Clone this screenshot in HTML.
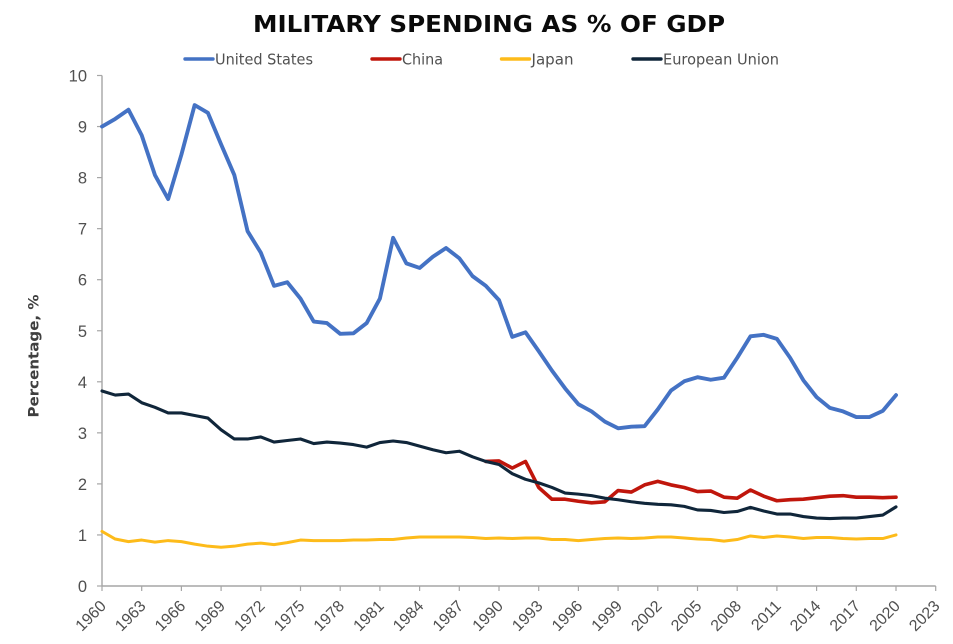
<!DOCTYPE html>
<html lang="en">
<head>
<meta charset="utf-8">
<title>Military Spending as % of GDP</title>
<style>
html,body{margin:0;padding:0;background:#fff;width:953px;height:644px;overflow:hidden}
svg{display:block;font-family:"Liberation Sans",sans-serif}
</style>
</head>
<body>
<svg id="chart" xmlns="http://www.w3.org/2000/svg" width="953" height="644" viewBox="0 0 953 644">
  <text x="489" y="32" text-anchor="middle" font-family="'DejaVu Sans',sans-serif" font-size="23" font-weight="700" fill="#0a0a0a" textLength="472" lengthAdjust="spacingAndGlyphs">MILITARY SPENDING AS % OF GDP</text>
  <text transform="translate(38.5 356) rotate(-90)" text-anchor="middle" font-family="'DejaVu Sans',sans-serif" font-size="14.5" font-weight="700" fill="#3f3f3f" textLength="123" lengthAdjust="spacingAndGlyphs">Percentage, %</text>
  <g id="axes"></g>
  <g id="series" style="filter:blur(.35px)"></g>
  <g id="legend"></g>
</svg>
<script>
const startYear = 1960;
const endYear = 2023;
const xTickLabels = ["1960","1963","1966","1969","1972","1975","1978","1981","1984","1987","1990","1993","1996","1999","2002","2005","2008","2011","2014","2017","2020","2023"];
const yTickLabels = [0,1,2,3,4,5,6,7,8,9,10];

const unitedStates = [9.0,9.15,9.33,8.83,8.05,7.58,8.45,9.42,9.27,8.65,
  8.05,6.95,6.53,5.88,5.95,5.63,5.18,5.15,4.94,4.95,
  5.15,5.63,6.82,6.32,6.23,6.45,6.62,6.42,6.07,5.88,
  5.6,4.88,4.97,4.6,4.22,3.87,3.56,3.42,3.22,3.09,
  3.12,3.13,3.46,3.83,4.01,4.09,4.04,4.08,4.47,4.89,
  4.92,4.84,4.47,4.03,3.7,3.49,3.42,3.31,3.31,3.43,
  3.74];
const chinaStartYear = 1989;
const china = [2.44,
  2.45,2.31,2.44,1.93,1.7,1.7,1.66,1.63,1.65,1.87,
  1.84,1.98,2.05,1.98,1.93,1.85,1.86,1.74,1.72,1.88,
  1.76,1.67,1.69,1.7,1.73,1.76,1.77,1.74,1.74,1.73,
  1.74];
const japan = [1.07,.92,.87,.9,.86,.89,.87,.82,.78,.76,
  .78,.82,.84,.81,.85,.9,.89,.89,.89,.9,
  .9,.91,.91,.94,.96,.96,.96,.96,.95,.93,
  .94,.93,.94,.94,.91,.91,.89,.91,.93,.94,
  .93,.94,.96,.96,.94,.92,.91,.88,.91,.98,
  .95,.98,.96,.93,.95,.95,.93,.92,.93,.93,
  1.0];
const europeanUnion = [3.82,3.74,3.76,3.59,3.5,3.39,3.39,3.34,3.29,3.06,
  2.88,2.88,2.92,2.82,2.85,2.88,2.79,2.82,2.8,2.77,
  2.72,2.81,2.84,2.81,2.74,2.67,2.61,2.64,2.53,2.44,
  2.38,2.2,2.09,2.02,1.93,1.82,1.8,1.77,1.72,1.69,
  1.65,1.62,1.6,1.59,1.56,1.49,1.48,1.44,1.46,1.54,
  1.47,1.41,1.41,1.36,1.33,1.32,1.33,1.33,1.36,1.39,
  1.55];

const NS = "http://www.w3.org/2000/svg";
const plotLeft = 102, plotRight = 935.7, plotTop = 75.5, plotBottom = 586;
const yMax = 10;
function xScale(year){ return plotLeft + (year - startYear) * (plotRight - plotLeft) / (endYear - startYear); }
function yScale(v){ return plotBottom - v * (plotBottom - plotTop) / yMax; }
function make(tag, attrs, parent){
  const el = document.createElementNS(NS, tag);
  for (const k in attrs) el.setAttribute(k, attrs[k]);
  parent.appendChild(el);
  return el;
}

const axes = document.getElementById("axes");
const AXIS = "#a6a6a6", LABEL = "#505050";

const yAxisLine = make("line", {x1:plotLeft, x2:plotLeft, y1:plotTop, y2:plotBottom, stroke:AXIS, "stroke-width":1.4}, axes);


const xAxisLine = make("line", {x1:plotLeft, x2:plotRight, y1:plotBottom, y2:plotBottom, stroke:AXIS, "stroke-width":1.4}, axes);



yTickLabels.forEach(function(v){
  const y = yScale(v);
  const tick = make("line", {x1:plotLeft-5, x2:plotLeft, y1:y, y2:y, stroke:AXIS, "stroke-width":1.2}, axes);
  
  
  const t = make("text", {x:plotLeft-15, y:y+6, "text-anchor":"end", "font-size":16.5, fill:LABEL}, axes);
  
  
  t.textContent = v;
});

xTickLabels.forEach(function(label){
  const x = xScale(+label);
  const tick = make("line", {x1:x, x2:x, y1:plotBottom, y2:plotBottom+5, stroke:AXIS, "stroke-width":1.2}, axes);
  
  
  const t = make("text", {transform:"translate("+(x+5)+" "+(plotBottom+21)+") rotate(-45)", "text-anchor":"end", "font-size":16, fill:LABEL}, axes);
  
  
  t.textContent = label;
});

function linePath(values, firstYear){
  return values.map(function(v, i){
    return (i ? "L" : "M") + xScale(firstYear + i).toFixed(2) + " " + yScale(v).toFixed(2);
  }).join(" ");
}
const seriesGroup = document.getElementById("series");
const usLine = make("path", {d:linePath(unitedStates, startYear), fill:"none", stroke:"#4472C4", "stroke-width":3.9, "stroke-linejoin":"round", "stroke-linecap":"round"}, seriesGroup);


const japanLine = make("path", {d:linePath(japan, startYear), fill:"none", stroke:"#FDBB1A", "stroke-width":3, "stroke-linejoin":"round", "stroke-linecap":"round"}, seriesGroup);


const chinaLine = make("path", {d:linePath(china, chinaStartYear), fill:"none", stroke:"#C0160C", "stroke-width":3.6, "stroke-linejoin":"round", "stroke-linecap":"round"}, seriesGroup);


const euLine = make("path", {d:linePath(europeanUnion, startYear), fill:"none", stroke:"#10263A", "stroke-width":3.1, "stroke-linejoin":"round", "stroke-linecap":"round"}, seriesGroup);



const legend = document.getElementById("legend");
function legendEntry(text, color, x, width, name){
  const g = make("g", {}, legend);
  
  
  make("line", {x1:x, x2:x+28, y1:59, y2:59, stroke:color, "stroke-width":3.4, "stroke-linecap":"round"}, g);
  const t = make("text", {x:x+30, y:64.5, "font-family":"'DejaVu Sans',sans-serif", "font-size":15, fill:"#505050", textLength:width, lengthAdjust:"spacingAndGlyphs"}, g);
  t.textContent = text;
}
legendEntry("United States", "#4472C4", 185, 98, "legend-entry-united-states");
legendEntry("China", "#C0160C", 372, 41, "legend-entry-china");
legendEntry("Japan", "#FDBB1A", 501.5, 42, "legend-entry-japan");
legendEntry("European Union", "#10263A", 633, 116, "legend-entry-european-union");
</script>
</body>
</html>
